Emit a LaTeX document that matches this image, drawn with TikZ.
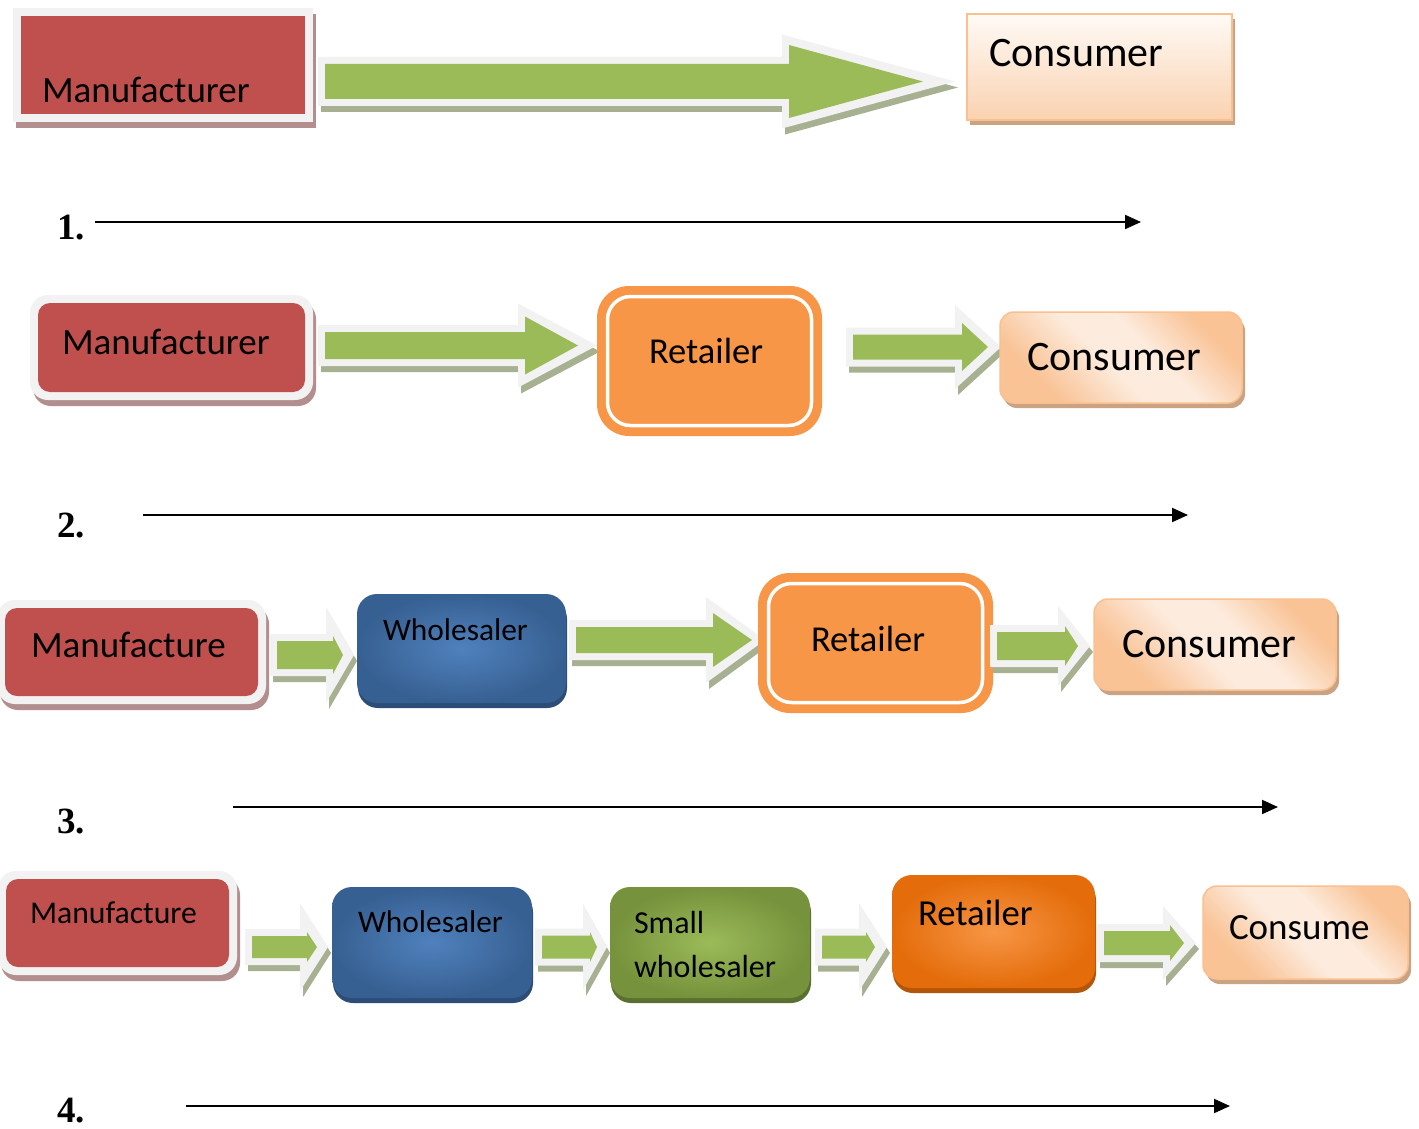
\documentclass[tikz,border=0pt]{standalone}
\usepackage{fontspec}
\newfontfamily\calfont{Carlito}
\newfontfamily\numfont{Liberation Serif}
\usetikzlibrary{arrows.meta}
\definecolor{boxred}{HTML}{C0504D}
\definecolor{rimgray}{HTML}{F2F2F2}
\definecolor{redshadow}{HTML}{B38E8E}
\definecolor{arrgreen}{HTML}{9BBB59}
\definecolor{arrshadow}{HTML}{A7B191}
\definecolor{conborder}{HTML}{FAC090}
\definecolor{conlight}{HTML}{FDEBDD}
\definecolor{conpeach}{HTML}{F9C396}
\definecolor{contop}{HTML}{FFFAF6}
\definecolor{conbot}{HTML}{FAD2B0}
\definecolor{conshadow}{HTML}{C9A383}
\definecolor{retorange}{HTML}{F79646}
\definecolor{wsin}{HTML}{4F81BD}
\definecolor{wsout}{HTML}{376092}
\definecolor{wsshadow}{HTML}{2C4D78}
\definecolor{swin}{HTML}{9BBB59}
\definecolor{swout}{HTML}{76923C}
\definecolor{swshadow}{HTML}{5A7030}
\definecolor{rfin}{HTML}{F79646}
\definecolor{rfout}{HTML}{E46C0A}
\definecolor{rfshadow}{HTML}{B4560A}
\pgfdeclarehorizontalshading{consh}{100bp}{color(0bp)=(conpeach); color(28bp)=(conpeach); color(46bp)=(conlight); color(58bp)=(conlight); color(74bp)=(conpeach); color(100bp)=(conpeach)}
% red box: x1 y1 x2 y2 rin rout
\newcommand\redbox[6]{%
  \fill[redshadow, rounded corners=#6] ({#1-8+3},{#2-8+6}) rectangle ({#3+8+3},{#4+8+6});
  \fill[rimgray, rounded corners=#6] ({#1-8},{#2-8}) rectangle ({#3+8},{#4+8});
  \fill[boxred, rounded corners=#5] (#1,#2) rectangle (#3,#4);}
% fat arrow: x0 xb xt yc s h H T
\newcommand\fatarrow[8]{%
  \fill[arrshadow, shift={(3,6)}] ({#1-7},{#4-#5-7}) -- ({#2-7},{#4-#5-7}) -- ({#2-7},{#4-#7}) -- ({#3+#8},#4) -- ({#2-7},{#4+#7}) -- ({#2-7},{#4+#5+7}) -- ({#1-7},{#4+#5+7}) -- cycle;
  \fill[rimgray] ({#1-7},{#4-#5-7}) -- ({#2-7},{#4-#5-7}) -- ({#2-7},{#4-#7}) -- ({#3+#8},#4) -- ({#2-7},{#4+#7}) -- ({#2-7},{#4+#5+7}) -- ({#1-7},{#4+#5+7}) -- cycle;
  \fill[arrgreen] (#1,{#4-#5}) -- (#2,{#4-#5}) -- (#2,{#4-#6}) -- (#3,#4) -- (#2,{#4+#6}) -- (#2,{#4+#5}) -- (#1,{#4+#5}) -- cycle;}
% consumer box: x1 y1 x2 y2 r shading-options
\newcommand\conbox[6]{%
  \fill[conshadow, rounded corners=#5] ({#1+3},{#2+5}) rectangle ({#3+3},{#4+5});
  \shade[#6, rounded corners=#5] (#1,#2) rectangle (#3,#4);
  \draw[conborder, line width=1.5pt, rounded corners=#5] (#1,#2) rectangle (#3,#4);}
% gem box: x1 y1 x2 y2 inner outer shadow
\newcommand\gembox[7]{%
  \fill[#7, rounded corners=20pt] ({#1+1},{#2+5}) rectangle ({#3+1},{#4+5});
  \shade[inner color=#5, outer color=#6, rounded corners=20pt] (#1,#2) rectangle (#3,#4);}
% double retailer: x1 y1 x2 y2
\newcommand\dblbox[4]{%
  \fill[retorange, rounded corners=32pt] (#1,#2) rectangle (#3,#4);
  \draw[white, line width=3.5pt, rounded corners=23pt] ({#1+10.5},{#2+10.5}) rectangle ({#3-10.5},{#4-10.5});}
\begin{document}
\begin{tikzpicture}[x=1pt,y=-1pt,
  lbl/.style={anchor=base west, inner sep=0pt, outer sep=0pt, font={\calfont\fontsize{#1}{#1}\selectfont}},
  num/.style={anchor=base west, inner sep=0pt, font={\numfont\bfseries\fontsize{37}{40}\selectfont}},
  tline/.style={line width=2pt, -{Triangle[length=16pt,width=14pt]}}]
\useasboundingbox (0,0) rectangle (1419,1129);
\fill[white] (0,0) rectangle (1419,1129);

% ---------- Row 1 ----------
\redbox{21}{16}{305}{114}{0pt}{0pt}
\fatarrow{325}{789}{923}{81.5}{17.5}{36.5}{47}{32}
\conbox{967}{14}{1232}{120}{0pt}{top color=contop, bottom color=conbot}
\node[lbl=37] (m1) at (42,103) {Manufacturer};
\node[lbl=42] (c1) at (989,67) {Consumer};
\node[num] (n1) at (57,239) {1.};
\coordinate (l1s) at (95,222);
\coordinate (l1e) at (1141,222);
\draw[tline] (l1s) -- (l1e);

% ---------- Row 2 ----------
\redbox{38}{303}{305}{392}{12pt}{18pt}
\fatarrow{325}{525}{578}{345.5}{13.5}{29}{42}{19}
\dblbox{597}{286}{822}{436}
\fatarrow{853}{962}{988}{347}{12.5}{24}{42}{13}
\conbox{1000}{312}{1242}{403}{14pt}{shading=consh, shading angle=45}
\node[lbl=37] (m2) at (62,354) {Manufacturer};
\node[lbl=36.5] (r2) at (649,363) {Retailer};
\node[lbl=42] (c2) at (1027,370) {Consumer};
\node[num] (n2) at (57,537) {2.};
\coordinate (l2s) at (143,515);
\coordinate (l2e) at (1188,515);
\draw[tline] (l2s) -- (l2e);

% ---------- Row 3 ----------
\redbox{5}{608}{258}{696}{12pt}{18pt}
\fatarrow{277}{333}{343}{655}{14}{19}{48}{11}
\gembox{357}{594}{566}{703}{wsin}{wsout}{wsshadow}
\fatarrow{576}{713}{752}{640}{13}{27}{43}{13}
\dblbox{758}{573}{993}{713}
\fatarrow{997}{1065}{1078}{646}{14}{20}{40}{12}
\conbox{1094}{599}{1336}{690}{14pt}{shading=consh, shading angle=45}
\node[lbl=37] (m3) at (31,657) {Manufacture};
\node[lbl=31.4] (w3) at (383,640) {Wholesaler};
\node[lbl=36.5] (r3) at (811,651) {Retailer};
\node[lbl=42] (c3) at (1122,657) {Consumer};
\node[num] (n3) at (57,833) {3.};
\coordinate (l3s) at (233,807);
\coordinate (l3e) at (1278,807);
\draw[tline] (l3s) -- (l3e);

% ---------- Row 4 ----------
\redbox{6}{879}{229}{967}{12pt}{18pt}
\fatarrow{252}{307}{317}{947}{11}{15}{44}{11}
\gembox{332}{887}{532}{998}{wsin}{wsout}{wsshadow}
\fatarrow{542}{590}{597}{947}{11.5}{15}{43}{10}
\gembox{610}{887}{810}{998}{swin}{swout}{swshadow}
\fatarrow{822}{866}{875}{947}{11.5}{15}{44}{12}
\gembox{892}{875}{1095}{988}{rfin}{rfout}{rfshadow}
\fatarrow{1104}{1170}{1184}{943}{12}{18}{37}{12}
\conbox{1203}{886}{1408}{979}{14pt}{shading=consh, shading angle=45}
\node[lbl=31.7] (m4) at (30,923) {Manufacture};
\node[lbl=31.4] (w4) at (358,932) {Wholesaler};
\node[lbl=32] (s4a) at (634,933) {Small};
\node[lbl=32] (s4b) at (634,977) {wholesaler};
\node[lbl=36.7] (r4) at (918,925) {Retailer};
\node[lbl=37] (c4) at (1229,939) {Consume};
\node[num] (n4) at (57,1122) {4.};
\coordinate (l4s) at (186,1106);
\coordinate (l4e) at (1230,1106);
\draw[tline] (l4s) -- (l4e);
\end{tikzpicture}
\end{document}
